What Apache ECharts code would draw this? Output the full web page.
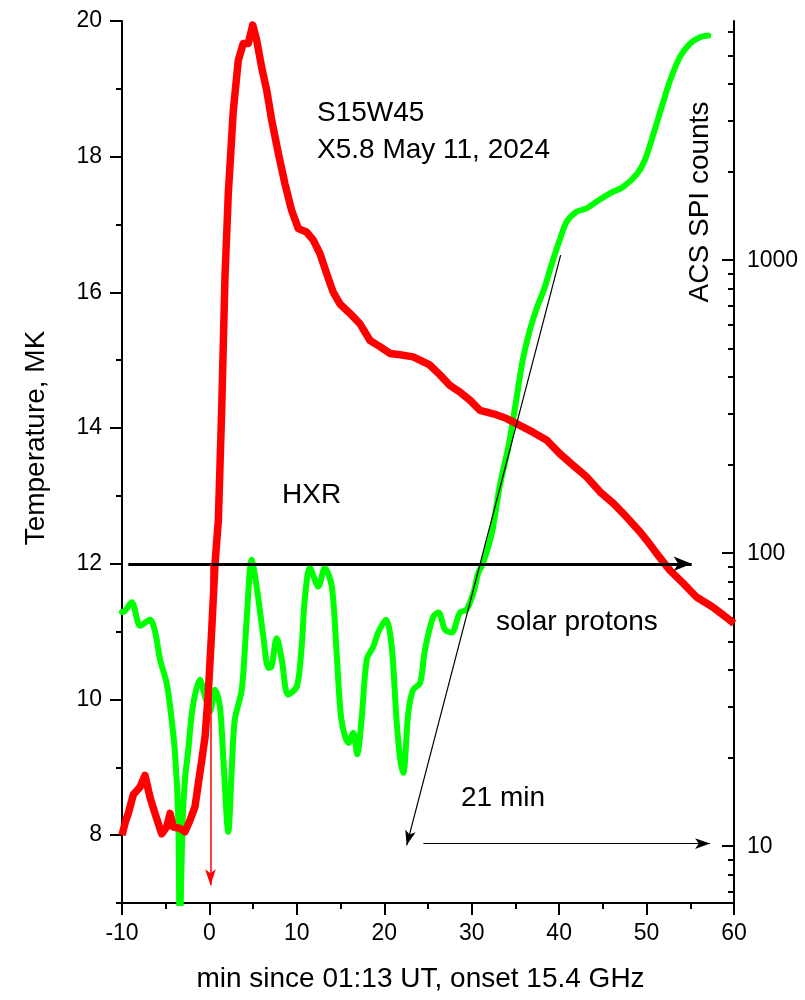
<!DOCTYPE html>
<html>
<head>
<meta charset="utf-8">
<script src="https://cdn.jsdelivr.net/npm/echarts@6/dist/echarts.min.js"></script>
<style>
  html, body { margin: 0; padding: 0; background: #fff; }
  #chart { width: 805px; height: 1000px; }
</style>
</head>
<body>
<div id="chart"></div>
<script>
// ---- Data ----
// Temperature (MK) vs minutes since 01:13 UT
const tempTime = [-10, -9.6, -9.28, -8.7, -7.94, -7.37, -6.8, -6.23, -5.46, -4.89, -4.5, -4.13, -3.37, -2.8, -2.22, -1.65, -1.27, -0.88, -0.5, -0.13, 0.26, 0.64, 1.02, 1.4, 1.78, 2.16, 2.73, 3.3, 3.87, 4.45, 4.95, 5.4, 5.97, 6.55, 7.12, 7.88, 8.64, 9.4, 10.17, 11.1, 11.88, 12.65, 13.4, 14.17, 14.93, 16.08, 17.2, 18.37, 19.5, 20.65, 21.8, 23.3, 25.2, 26.4, 27.5, 28.66, 29.8, 30.95, 32.47, 34.0, 35.5, 37.0, 38.6, 40.1, 41.6, 43.15, 44.67, 46.2, 47.7, 49.25, 50.0, 51.16, 52.7, 54.2, 55.7, 57.6, 59.5, 60];
const tempValue = [8.0, 8.2, 8.32, 8.6, 8.71, 8.88, 8.56, 8.32, 8.02, 8.12, 8.32, 8.12, 8.1, 8.05, 8.22, 8.42, 8.76, 9.1, 9.45, 10.09, 11.02, 12.0, 12.64, 14.26, 16.23, 17.46, 18.68, 19.42, 19.67, 19.67, 19.94, 19.72, 19.32, 18.98, 18.54, 18.05, 17.6, 17.21, 16.94, 16.89, 16.77, 16.57, 16.28, 16.0, 15.83, 15.69, 15.54, 15.29, 15.2, 15.1, 15.08, 15.05, 14.93, 14.78, 14.63, 14.53, 14.41, 14.26, 14.21, 14.14, 14.04, 13.94, 13.82, 13.62, 13.45, 13.28, 13.06, 12.89, 12.69, 12.47, 12.35, 12.15, 11.9, 11.71, 11.51, 11.36, 11.17, 11.12];

// ACS SPI counts vs minutes
const spiTime = [-10, -9.85, -8.9, -7.9, -6.8, -6.2, -5.65, -4.9, -4.5, -3.94, -3.56, -3.4, -3.06, -2.8, -2.45, -1.9, -1.1, -0.5, 0.06, 0.64, 1.2, 1.55, 2.16, 2.55, 2.9, 3.7, 4.26, 4.83, 5.4, 6.17, 6.74, 7.1, 7.7, 8.27, 9.0, 10.0, 10.55, 10.9, 11.5, 12.45, 13.2, 14.0, 14.55, 15.1, 15.9, 16.45, 16.9, 17.4, 18.0, 18.75, 19.3, 20.2, 20.85, 21.4, 21.8, 22.17, 22.75, 23.3, 24.1, 24.65, 25.6, 26.2, 26.95, 27.7, 28.65, 29.4, 30.2, 30.75, 31.3, 32.3, 33.2, 34.2, 35.0, 35.8, 36.6, 37.4, 38.3, 39.2, 40.1, 40.86, 42.0, 43.15, 44.3, 45.8, 47.3, 48.87, 49.8, 50.8, 51.73, 52.7, 53.8, 54.97, 56.1, 57.06];
const spiCounts = [63, 63, 68, 56.5, 59.3, 53.6, 43.4, 36.1, 30.0, 20.9, 12.3, 5, 12.3, 16.9, 20.9, 30, 37, 32.4, 28.8, 34.2, 30, 20.9, 11.2, 18.2, 27, 34.2, 59.3, 95, 76.9, 51.9, 40.6, 41, 51.3, 43.4, 32.9, 35.1, 48, 69.3, 89.1, 76.9, 89.1, 76.9, 45.7, 27, 22.5, 24.4, 20.6, 27, 43.4, 48, 53.6, 59.3, 48, 27, 20, 17.8, 28.6, 34.2, 36.1, 46.8, 60.7, 62.7, 54.8, 53.6, 62.7, 64.1, 73.3, 85.7, 92.5, 117, 169, 231, 320, 450, 570, 680, 800, 980, 1180, 1352, 1462, 1503, 1585, 1690, 1778, 1963, 2193, 2704, 3334, 4111, 4932, 5483, 5768, 5848];

// Axis ticks
const xTicks = [-10, 0, 10, 20, 30, 40, 50, 60];
const tempLabelTicks = [8, 10, 12, 14, 16, 18, 20];
const countMajorTicks = [10, 100, 1000];
const countMinorTicks = [7, 8, 9, 20, 30, 40, 50, 60, 70, 80, 90, 200, 300, 400, 500, 600, 700, 800, 900, 2000, 3000, 4000, 5000, 6000];

// Annotation arrows [x1, T1, x2, T2] in (min, MK)
const arrowHXR = [-9.28, 12.0, 55.16, 12.0];
const arrowOnset = [0.12, 12.0, 0.12, 7.26];
const arrowDiag = [40.17, 16.55, 22.56, 7.85];
const arrowDelay = [24.47, 7.876, 57.26, 7.876];

const FONT = "'Liberation Sans', Arial, Helvetica, sans-serif";

const tempData = tempTime.map((t, i) => [t, tempValue[i]]);
const spiData = spiTime.map((t, i) => [t, spiCounts[i]]);

function arrow(a, color, width, head) {
  return [
    { coord: [a[0], a[1]], symbol: 'none', lineStyle: { color: color, width: width, type: 'solid' } },
    { coord: [a[2], a[3]], symbol: 'arrow', symbolSize: head }
  ];
}

const chart = echarts.init(document.getElementById('chart'), null, { renderer: 'canvas' });

const axisLineStyle = { color: '#000', width: 2 };

chart.setOption({
  animation: false,
  backgroundColor: '#fff',
  grid: { left: 122, right: 71, top: 21, bottom: 97, containLabel: false, outerBoundsMode: 'none' },
  xAxis: {
    type: 'value', min: -10, max: 60, interval: 10, position: 'bottom',
    name: 'min since 01:13 UT, onset 15.4 GHz',
    nameLocation: 'middle', nameGap: 62,
    nameTextStyle: { fontSize: 28, fontFamily: FONT, color: '#000', padding: [0, 15, 0, 0] },
    axisLine: { show: true, onZero: false, lineStyle: axisLineStyle },
    axisTick: { show: true, length: 12, lineStyle: axisLineStyle },
    minorTick: { show: true, splitNumber: 2, length: 6, lineStyle: axisLineStyle },
    axisLabel: { fontSize: 23, fontFamily: FONT, color: '#000', margin: 19 },
    splitLine: { show: false }, minorSplitLine: { show: false }
  },
  yAxis: [
    {
      type: 'value', position: 'left', min: 7, max: 20, interval: 1,
      axisLine: { show: true, onZero: false, lineStyle: axisLineStyle },
      axisTick: { show: true, length: 6, lineStyle: axisLineStyle },
      axisLabel: { show: true, customValues: tempLabelTicks, fontSize: 23, fontFamily: FONT, color: '#000', margin: 20 },
      splitLine: { show: false }
    },
    {
      type: 'log', logBase: 10, position: 'right', min: 6.4, max: 6550,
      axisLine: { show: true, onZero: false, lineStyle: axisLineStyle },
      axisTick: { show: true, inside: true, length: 12, customValues: countMajorTicks, lineStyle: axisLineStyle },
      axisLabel: { show: true, customValues: countMajorTicks, fontSize: 23, fontFamily: FONT, color: '#000', margin: 13,
                   formatter: v => String(Math.round(v)) },
      splitLine: { show: false }
    },
    {
      type: 'value', position: 'left', min: 7, max: 20, interval: 1,
      axisLine: { show: false, onZero: false },
      axisTick: { show: true, length: 12, customValues: tempLabelTicks, lineStyle: axisLineStyle },
      axisLabel: { show: false },
      splitLine: { show: false }
    },
    {
      type: 'log', logBase: 10, position: 'right', min: 6.4, max: 6550,
      axisLine: { show: false, onZero: false },
      axisTick: { show: true, inside: true, length: 6, customValues: countMinorTicks, lineStyle: axisLineStyle },
      axisLabel: { show: false },
      splitLine: { show: false }
    }
  ],
  series: [
    {
      name: 'ACS SPI counts', type: 'line', yAxisIndex: 1, data: spiData,
      showSymbol: false, symbol: 'none', smooth: 0.3, clip: true,
      lineStyle: { color: '#00ff00', width: 6, cap: 'round', join: 'round' },
      z: 2
    },
    {
      name: 'Temperature', type: 'line', yAxisIndex: 0, data: tempData,
      showSymbol: false, symbol: 'none', smooth: false, clip: true,
      lineStyle: { color: '#ff0000', width: 7.5, join: 'round' },
      z: 3,
      markLine: {
        silent: true, animation: false, z: 5,
        label: { show: false },
        emphasis: { disabled: true },
        data: [
          arrow(arrowHXR, '#000', 3, [11, 18]),
          arrow(arrowOnset, '#ff0000', 1.5, [8, 16]),
          arrow(arrowDiag, '#000', 1.2, [8, 15]),
          arrow(arrowDelay, '#000', 1.2, [8, 15])
        ]
      }
    }
  ],
  graphic: [
    { type: 'text', x: 36, y: 438, rotation: Math.PI / 2,
      style: { text: 'Temperature, MK', fontSize: 28, fontFamily: FONT, fill: '#000', textAlign: 'center', textVerticalAlign: 'middle' } },
    { type: 'text', x: 700, y: 202, rotation: Math.PI / 2,
      style: { text: 'ACS SPI counts', fontSize: 28, fontFamily: FONT, fill: '#000', textAlign: 'center', textVerticalAlign: 'middle' } },
    { type: 'text', x: 317, y: 113,
      style: { text: 'S15W45', fontSize: 28, fontFamily: FONT, fill: '#000', textAlign: 'left', textVerticalAlign: 'middle' } },
    { type: 'text', x: 317, y: 150,
      style: { text: 'X5.8 May 11, 2024', fontSize: 28, fontFamily: FONT, fill: '#000', textAlign: 'left', textVerticalAlign: 'middle' } },
    { type: 'text', x: 282, y: 495,
      style: { text: 'HXR', fontSize: 28, fontFamily: FONT, fill: '#000', textAlign: 'left', textVerticalAlign: 'middle' } },
    { type: 'text', x: 496, y: 622,
      style: { text: 'solar protons', fontSize: 28, fontFamily: FONT, fill: '#000', textAlign: 'left', textVerticalAlign: 'middle' } },
    { type: 'text', x: 461, y: 798,
      style: { text: '21 min', fontSize: 28, fontFamily: FONT, fill: '#000', textAlign: 'left', textVerticalAlign: 'middle' } }
  ]
});
</script>
</body>
</html>
